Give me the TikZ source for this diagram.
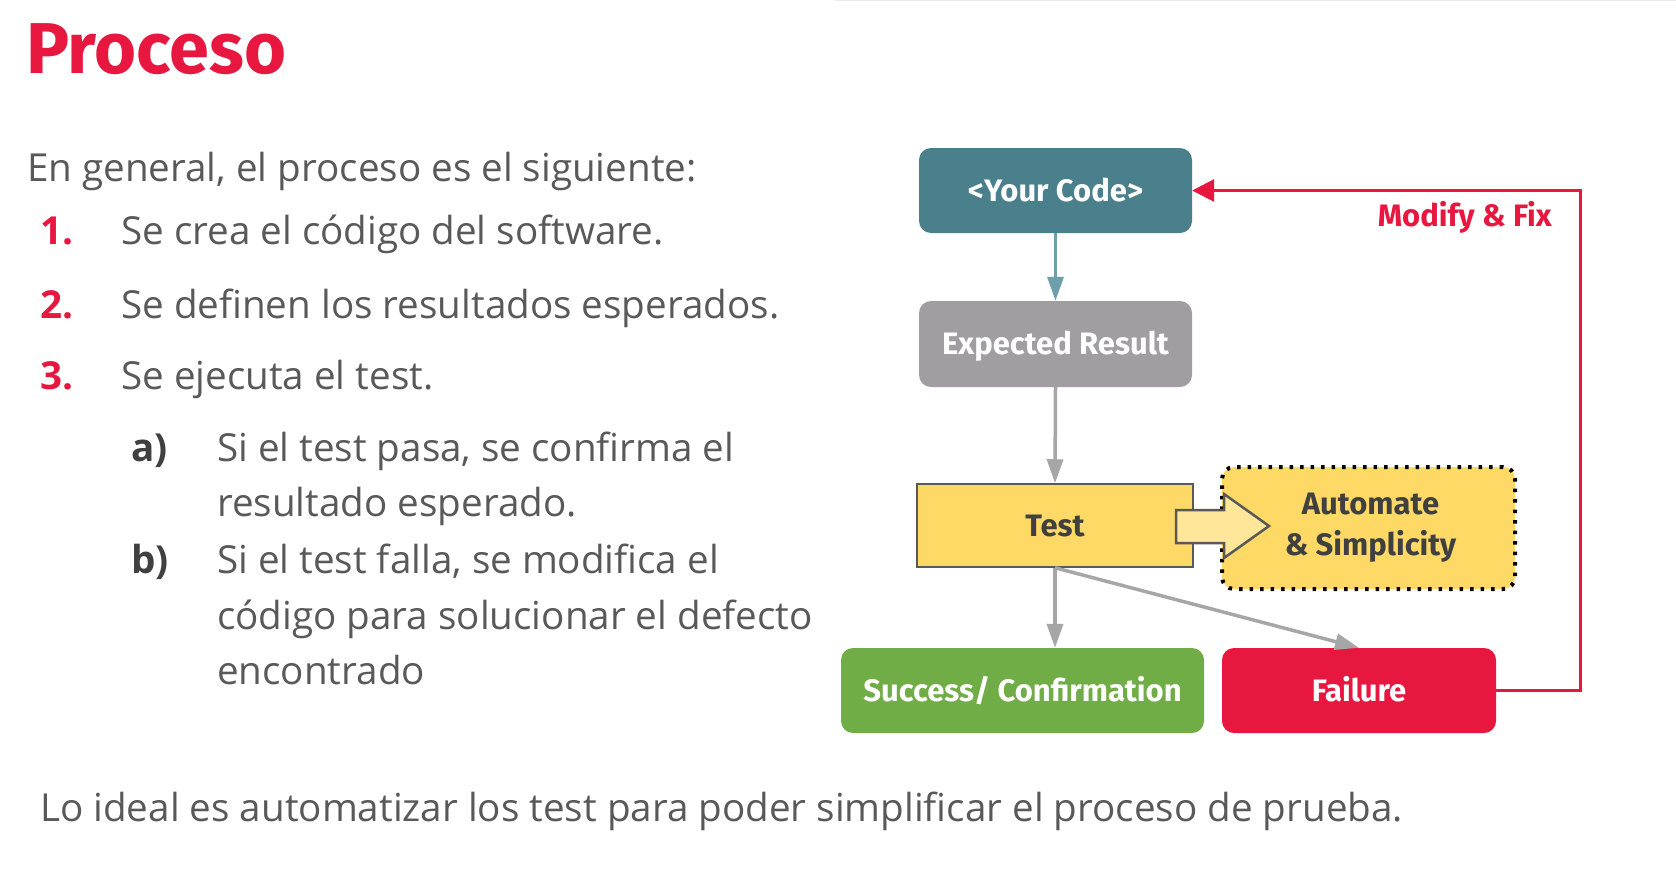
\documentclass[tikz,border=0pt]{standalone}
\usepackage{fontspec}
\setmainfont{Open Sans}
\newfontfamily\dgfont{Fira Sans}
\newfontfamily\ttlfont{Fira Sans}
\usetikzlibrary{arrows.meta}
\definecolor{txtgray}{HTML}{595959}
\definecolor{subgray}{HTML}{404040}
\definecolor{accred}{HTML}{E8173F}
\definecolor{teal}{HTML}{4A7F8C}
\definecolor{tealarrow}{HTML}{6E9FAB}
\definecolor{boxgray}{HTML}{A09EA1}
\definecolor{arrgray}{HTML}{A6A6A6}
\definecolor{testyellow}{HTML}{FFD966}
\definecolor{lightyellow}{HTML}{FFE699}
\definecolor{okgreen}{HTML}{70AD47}
\tikzset{
  body/.style={anchor=mid west, inner sep=0pt, text=txtgray, font=\fontsize{38.6}{46}\selectfont},
  num/.style={anchor=mid west, inner sep=0pt, text=accred, font=\fontsize{38.6}{46}\selectfont\bfseries},
  sub/.style={anchor=mid west, inner sep=0pt, text=subgray, font=\fontsize{38.6}{46}\selectfont\bfseries},
  box/.style={rounded corners=12pt, text=white, font=\dgfont\fontsize{31}{36}\selectfont\bfseries, inner sep=0pt},
  onel/.style={text height=21pt, text depth=0pt},
  flow/.style={draw=arrgray, line width=3.5pt, -{Triangle[length=24pt,width=16pt]}},
}
\begin{document}
\begin{tikzpicture}[x=1pt,y=-1pt]
\useasboundingbox (0,0) rectangle (1676,870);
\fill[white] (0,0) rectangle (1676,870);
\draw[black!8, line width=2pt] (835,0) -- (1676,0);

% title
\node[anchor=base west, inner sep=0pt, text=accred, font=\ttlfont\fontsize{72}{80}\selectfont\bfseries] (title) at (26,73) {Proceso};

% text
\node[body] (intro) at (27,179) {En general, el proceso es el siguiente:};
\node[num] (n1) at (40,242) {1.};
\node[body] (t1) at (121,242) {Se crea el código del software.};
\node[num] (n2) at (40,316) {2.};
\node[body] (t2) at (121,316) {Se definen los resultados esperados.};
\node[num] (n3) at (40,387) {3.};
\node[body] (t3) at (121,387) {Se ejecuta el test.};
\node[sub] (sa) at (131,459) {a)};
\node[body] (ta1) at (217,459) {Si el test pasa, se confirma el};
\node[body] (ta2) at (217,514) {resultado esperado.};
\node[sub] (sb) at (131,571) {b)};
\node[body] (tb1) at (217,571) {Si el test falla, se modifica el};
\node[body] (tb2) at (217,627) {código para solucionar el defecto};
\node[body] (tb3) at (217,682) {encontrado};
\node[body] (bottom) at (40,819) {Lo ideal es automatizar los test para poder simplificar el proceso de prueba.};

% diagram
\node[box, onel, fill=teal, minimum width=273pt, minimum height=85pt] (code) at (1055.5,190.5) {<Your Code>};
\node[box, onel, fill=boxgray, minimum width=273pt, minimum height=86pt] (exp) at (1055.5,344) {Expected Result};
\node[box, onel, rounded corners=0pt, fill=testyellow, draw=txtgray, line width=1.5pt, text=subgray, minimum width=276pt, minimum height=83pt] (test) at (1055,525.5) {Test};
\node[box, fill=testyellow, draw=black, line width=4pt, dash pattern=on 3.5pt off 7pt, text=subgray, minimum width=293pt, minimum height=122pt, align=center, font=\dgfont\fontsize{31}{41}\selectfont\bfseries] (auto) at (1368.5,528) {\hspace*{4pt}Automate\\\hspace*{4pt}\& Simplicity};
\node[box, onel, fill=okgreen, minimum width=363pt, minimum height=85pt] (succ) at (1022.5,690.5) {Success/ Confirmation};
\node[box, onel, fill=accred, minimum width=274pt, minimum height=85pt] (fail) at (1359,690.5) {Failure};

% block arrow
\draw[fill=lightyellow, draw=txtgray, line width=2.5pt, line join=miter]
  (1176,510) -- (1224,510) -- (1224,494) -- (1269,526) -- (1224,558) -- (1224,543) -- (1176,543) -- cycle;

% connectors
\draw[draw=tealarrow, line width=3.5pt, -{Triangle[length=24pt,width=16pt]}, color=tealarrow] (code.south) -- (exp.north);
\draw[flow] (exp.south) -- (test.north);
\draw[flow] (test.south) -- (test.south |- succ.north);
\draw[flow] (test.south) -- (fail.north);
\coordinate (rc) at (1580,400);
\draw[draw=accred, line width=3pt, -{Triangle[length=22pt,width=22pt]}, color=accred] (fail.east) -| (rc) |- (code.east);
\node[anchor=east, inner sep=0pt, text=accred, font=\dgfont\fontsize{31}{36}\selectfont\bfseries] (modfix) at (1552,217) {Modify \& Fix};
\end{tikzpicture}
\end{document}
